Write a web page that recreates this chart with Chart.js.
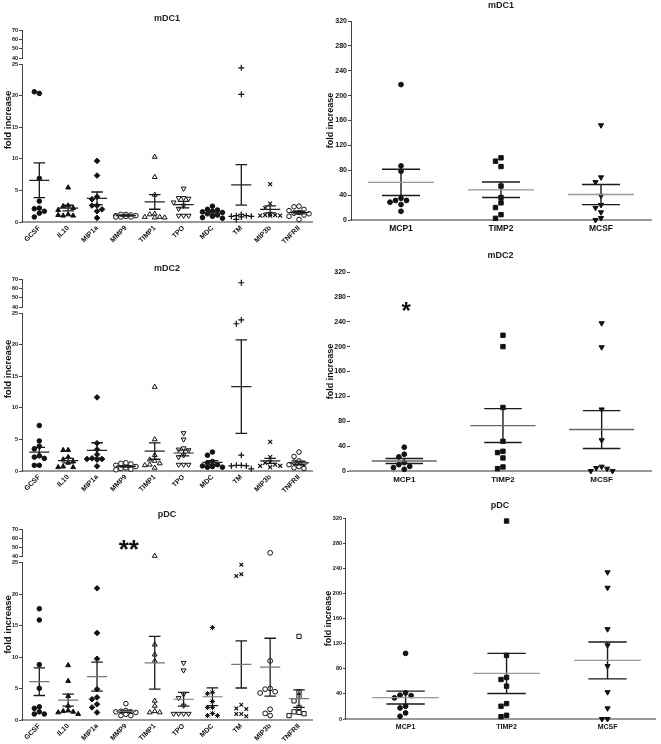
<!DOCTYPE html>
<html>
<head>
<meta charset="utf-8">
<script src="https://cdn.jsdelivr.net/npm/chart.js@4.4.1/dist/chart.umd.min.js"></script>
<style>
html, body { margin: 0; padding: 0; background: #fff; }
#wrap { position: relative; width: 661px; height: 744px; overflow: hidden; }
canvas { position: absolute; }
</style>
</head>
<body>
<div id="wrap">
  <canvas id="lt"></canvas>
  <canvas id="lm"></canvas>
  <canvas id="lb"></canvas>
  <canvas id="rt"></canvas>
  <canvas id="rm"></canvas>
  <canvas id="rb"></canvas>
</div>
<script>
// categorias e ticks
const leftCats = ['GCSF', 'IL10', 'MIP1a', 'MMP9', 'TIMP1', 'TPO', 'MDC', 'TM', 'MIP3b', 'TNFRII'];
const rightCats = ['MCP1', 'TIMP2', 'MCSF'];
const lowTicks = [0, 5, 10, 15, 20, 25];
const highTicks = [40, 50, 60, 70];
const rightTicks = [0, 40, 80, 120, 160, 200, 240, 280, 320];

// mDC1 - painel esquerdo (um array por categoria)
const mdc1LeftValues = [
  [20.35, 20.6, 6.9, 3.3, 2.2, 2.1, 1.7, 1.4, 0.8],
  [5.45, 2.6, 2.5, 2.2, 1.9, 1.2, 1.0, 1.0, 1.1],
  [9.67, 7.35, 4.0, 3.6, 2.6, 2.6, 2.0, 1.7, 0.65],
  [1.2, 1.2, 1.1, 1.0, 1.0, 0.9, 0.8, 0.8, 0.8],
  [10.3, 7.1, 4.3, 1.3, 1.2, 0.8, 0.8, 0.7, 0.7],
  [5.3, 3.8, 3.8, 3.7, 3.1, 2.6, 2.1, 1.0, 1.0, 1.0],
  [2.5, 2.0, 1.9, 1.7, 1.6, 1.5, 1.3, 1.1, 0.9, 0.7, 0.6],
  [24.4, 20.2, 1.2, 1.0, 1.0, 0.9, 0.9, 0.8, 0.4],
  [6.0, 2.9, 2.2, 1.3, 1.1, 1.1, 1.0, 1.0, 1.0],
  [2.5, 2.4, 2.0, 1.8, 1.5, 1.4, 1.3, 1.1, 0.9, 0.4]
];
const mdc1LeftMeans = [6.6, 2.2, 3.75, 1.0, 3.17, 2.75, 1.43, 5.87, 2.0, 1.5];
const mdc1LeftSems = [2.75, 0.45, 1.0, 0.07, 1.15, 0.5, 0.22, 3.2, 0.55, 0.2];

// mDC2 - painel esquerdo
const mdc2LeftValues = [
  [7.2, 4.75, 3.9, 3.5, 2.4, 2.2, 2.0, 0.9, 0.9],
  [3.3, 3.3, 2.2, 1.8, 1.5, 1.3, 0.7, 0.6, 0.6],
  [11.65, 4.4, 3.4, 2.6, 2.0, 1.9, 1.9, 1.8, 0.75],
  [1.3, 1.2, 1.1, 0.9, 0.7, 0.5, 0.4, 0.3, 0.2],
  [13.3, 5.0, 2.5, 1.8, 1.6, 1.2, 1.0, 0.9, 0.5],
  [6.0, 5.0, 3.6, 3.4, 3.3, 2.5, 2.2, 1.0, 1.0, 1.0],
  [3.0, 2.5, 1.5, 1.3, 1.0, 0.8, 0.7, 0.6, 0.6],
  [66, 23.9, 23.3, 2.5, 0.9, 0.9, 0.8, 0.8, 0.35],
  [4.6, 2.2, 1.4, 1.3, 1.0, 0.8, 0.8, 0.6],
  [3.0, 2.3, 1.6, 1.4, 1.2, 1.0, 0.7, 0.5, 0.4]
];
const mdc2LeftMeans = [3.0, 1.65, 3.27, 0.72, 3.16, 2.85, 1.35, 13.35, 1.6, 1.27];
const mdc2LeftSems = [0.75, 0.35, 1.2, 0.12, 1.3, 0.45, 0.3, 7.4, 0.4, 0.28];

// pDC - painel esquerdo
const pdcLeftValues = [
  [17.7, 15.9, 8.8, 5.05, 2.1, 1.85, 1.3, 0.95, 0.95],
  [8.7, 6.2, 3.8, 2.25, 1.5, 1.4, 1.3, 1.2, 0.95],
  [20.95, 13.84, 9.74, 4.9, 3.6, 3.3, 2.5, 2.0, 1.2],
  [2.6, 1.5, 1.4, 1.3, 1.3, 1.2, 0.9, 0.7, 0.7],
  [41, 12.0, 10.4, 9.4, 3.05, 2.25, 1.4, 1.2, 1.2],
  [9.1, 7.9, 4.1, 3.5, 2.3, 1.0, 1.0, 1.0, 1.0],
  [14.7, 4.4, 4.2, 2.95, 2.0, 2.0, 1.05, 0.7, 0.7],
  [24.7, 23.2, 22.9, 2.42, 1.84, 1.74, 0.95, 0.95, 0.58],
  [44.3, 9.4, 5.0, 4.9, 4.5, 4.3, 1.7, 1.05, 0.7],
  [13.3, 4.5, 3.74, 3.05, 2.0, 1.3, 1.2, 1.0, 0.7]
];
const pdcLeftMeans = [6.1, 3.15, 6.9, 1.37, 9.1, 3.3, 3.7, 8.84, 8.4, 3.4];
const pdcLeftSems = [2.2, 0.95, 2.3, 0.15, 4.2, 1.1, 1.4, 3.75, 4.6, 1.4];

// painéis da direita
const mdc1RightValues = [
  [217.8, 87, 78.4, 35, 31.4, 31.4, 28.6, 24.9, 14],
  [100, 94.6, 86, 54.6, 36.2, 27.6, 20, 8.6, 2.7],
  [152.4, 68.6, 61, 39, 24.3, 19.5, 12.4, 3.2, 0]
];
const mdc1RightMeans = [60.5, 48.6, 41];
const mdc1RightSems = [21, 12.4, 16.2];

const mdc2RightValues = [
  [38.2, 26.9, 22.6, 13.4, 10.2, 7.5, 5.4, 2.7],
  [218.3, 200, 102.2, 47.8, 31.7, 29.6, 21, 6.5, 3.8],
  [237.6, 199, 99, 49.5, 7, 4.8, 3.8, 0, 0]
];
const mdc2RightMeans = [16.1, 73.1, 66.7];
const mdc2RightSems = [4.1, 27.2, 30.4];

const pdcRightValues = [
  [104.5, 41.6, 37.9, 37.3, 33.6, 20.3, 17.6, 9.6, 4.3],
  [315.2, 101.3, 66.1, 62.9, 52.3, 24.5, 20.3, 5.9, 3.7],
  [233.6, 209, 143, 117.3, 84.3, 42.7, 17, 0, 0]
];
const pdcRightMeans = [34.1, 72.5, 93.3];
const pdcRightSems = [10.2, 32, 29.4];

const FONT = "'Liberation Sans', Arial, sans-serif";
const INK = '#111';
const BREAK = 30;

// marcadores de cada categoria
const marksA = [
  { s: 'circle', rad: 2.3, fill: true },
  { s: 'triangle', rad: 2.8, fill: true },
  { s: 'rectRot', rad: 2.8, fill: true },
  { s: 'rectRounded', rad: 2.5, fill: false },
  { s: 'triangle', rad: 2.8, fill: false },
  { s: 'triangle', rad: 2.8, fill: false, rot: 180 },
  { s: 'circle', rad: 2.3, fill: true },
  { s: 'cross', rad: 3, fill: false, bw: 1.2 },
  { s: 'crossRot', rad: 2.8, fill: false, bw: 1.2 },
  { s: 'circle', rad: 2.3, fill: false }
];
const marksB = [
  { s: 'circle', rad: 2.3, fill: true },
  { s: 'triangle', rad: 2.8, fill: true },
  { s: 'rectRot', rad: 2.8, fill: true },
  { s: 'circle', rad: 2.3, fill: false },
  { s: 'triangle', rad: 2.8, fill: false },
  { s: 'triangle', rad: 2.8, fill: false, rot: 180 },
  { s: 'star', rad: 2.6, fill: false, bw: 1 },
  { s: 'crossRot', rad: 2.6, fill: false, bw: 1.2 },
  { s: 'circle', rad: 2.4, fill: false },
  { s: 'rect', rad: 3, fill: false }
];
const marksRight = [
  { s: 'circle', rad: 2.4, fill: true },
  { s: 'rect', rad: 3.1, fill: true },
  { s: 'triangle', rad: 3, fill: true, rot: 180 }
];

// espalha pontos parecidos na horizontal (como no GraphPad)
function spread(vals, toPx, stepPx, xPx, diam, maxSlot) {
  const placed = [];
  return vals.map(v => {
    const py = toPx(v);
    let best = 0, bestD = -1;
    for (let k = 0; k <= maxSlot * 2; k++) {
      const slot = k === 0 ? 0 : (k % 2 ? -Math.ceil(k / 2) : k / 2);
      const ox = slot * stepPx;
      let dmin = Infinity;
      placed.forEach(p => { dmin = Math.min(dmin, Math.hypot(p.ox - ox, p.py - py)); });
      if (dmin >= diam) { best = ox; bestD = Infinity; break; }
      if (dmin > bestD) { bestD = dmin; best = ox; }
    }
    placed.push({ ox: best, py });
    return best / xPx;
  });
}

function meanSeries(means, halfW) {
  const d = [];
  means.forEach((m, i) => d.push({ x: i - halfW, y: m }, { x: i + halfW, y: m }, { x: i, y: null }));
  return d;
}

function semSeries(means, sems, capW) {
  const d = [];
  means.forEach((m, i) => {
    const hi = m + sems[i], lo = m - sems[i];
    d.push({ x: i - capW, y: hi }, { x: i + capW, y: hi }, { x: i, y: null });
    d.push({ x: i - capW, y: lo }, { x: i + capW, y: lo }, { x: i, y: null });
    d.push({ x: i, y: hi }, { x: i, y: lo }, { x: i, y: null });
  });
  return d;
}

function markerOpts(marks) {
  const m = c => (c.raw && marks[c.raw.c]) || marks[0];
  return {
    pointStyle: c => m(c).s,
    pointRadius: c => m(c).rad,
    pointRotation: c => m(c).rot || 0,
    pointBackgroundColor: c => m(c).fill ? INK : '#fff',
    pointBorderColor: INK,
    pointBorderWidth: c => m(c).bw || 1,
    clip: false,
    order: 1
  };
}

// textos extras: título vertical e asteriscos
const yTitlePlugin = {
  id: 'yTitle',
  afterDraw(chart, args, o) {
    if (!o || !o.text) return;
    const ctx = chart.ctx, a = chart.chartArea;
    ctx.save();
    ctx.font = 'bold ' + o.size + 'px ' + FONT;
    ctx.fillStyle = INK;
    ctx.translate(o.x, (a.top + a.bottom) / 2 + (o.dy || 0));
    ctx.rotate(-Math.PI / 2);
    ctx.textAlign = 'center';
    ctx.textBaseline = 'middle';
    ctx.fillText(o.text, 0, 0);
    ctx.restore();
  }
};
const notePlugin = {
  id: 'note',
  afterDatasetsDraw(chart, args, o) {
    if (!o || !o.text) return;
    const ctx = chart.ctx;
    const x = chart.scales.x.getPixelForValue(o.cat);
    const y = chart.scales[o.axis].getPixelForValue(o.value);
    ctx.save();
    ctx.font = 'bold ' + o.size + 'px ' + FONT;
    ctx.fillStyle = INK;
    ctx.textAlign = 'center';
    ctx.textBaseline = 'middle';
    ctx.fillText(o.text, x, y + o.size * 0.22);
    ctx.restore();
  }
};
Chart.register(yTitlePlugin, notePlugin);

function yLeftAxis(weight, min, max, ticks) {
  return {
    type: 'linear', axis: 'y', position: 'left', stack: 'L', stackWeight: weight, min, max,
    afterBuildTicks: s => { s.ticks = ticks.map(v => ({ value: v })); },
    afterFit: s => { s.width = 22; },
    ticks: { autoSkip: false, font: { family: FONT, size: 5.5, weight: 'bold' }, color: INK, padding: 1 },
    grid: { drawOnChartArea: false, tickLength: 3, color: '#444' },
    border: { color: '#444', width: 1 }
  };
}

function leftPanel(p) {
  const canvas = document.getElementById(p.id);
  canvas.width = 330; canvas.height = p.h;
  canvas.style.left = '0px'; canvas.style.top = p.top + 'px';

  const low = [], high = [];
  p.values.forEach((vals, c) => {
    const offs = spread(vals, v => v > BREAK ? 1000 + v * 0.93 : v * 6.32, 5, 28.9, 4.6, 2);
    vals.forEach((v, k) => (v > BREAK ? high : low).push({ x: c + offs[k], y: v, c }));
  });

  new Chart(canvas, {
    type: 'scatter',
    data: {
      datasets: [
        { type: 'line', data: meanSeries(p.means, 0.35), borderColor: p.meanColor, borderWidth: 1.2, pointRadius: 0, yAxisID: 'yLow', order: 0 },
        { type: 'line', data: semSeries(p.means, p.sems, 0.2), borderColor: '#1a1a1a', borderWidth: 1.3, pointRadius: 0, yAxisID: 'yLow', order: 0 },
        { data: low, yAxisID: 'yLow', ...markerOpts(p.marks) },
        { data: high, yAxisID: 'yHigh', ...markerOpts(p.marks) }
      ]
    },
    options: {
      responsive: false, animation: false, events: [],
      layout: { padding: { left: 0, right: 18, top: 0, bottom: 0 } },
      plugins: {
        legend: { display: false }, tooltip: { enabled: false },
        title: {
          display: true, text: p.title, fullSize: false, color: '#222',
          font: { family: FONT, size: 9, weight: 'bold' },
          padding: { top: p.tTop, bottom: p.tBottom }
        },
        yTitle: { text: 'fold increase', x: 8, dy: p.labelDy, size: 9.5 },
        note: p.note || {}
      },
      scales: {
        x: {
          type: 'linear', min: -0.6, max: 9.45,
          afterBuildTicks: s => { s.ticks = leftCats.map((c, i) => ({ value: i })); },
          afterFit: s => { s.height = p.xH; },
          ticks: {
            autoSkip: false, minRotation: 45, maxRotation: 45, padding: 2, color: INK,
            font: { family: FONT, size: 7, weight: 'bold' },
            callback: v => leftCats[v]
          },
          grid: { display: false, drawTicks: false },
          border: { color: '#999', width: 2 }
        },
        yLow: yLeftAxis(158, 0, 25, lowTicks),
        yGap: { type: 'linear', axis: 'y', position: 'left', stack: 'L', stackWeight: 6, display: false, min: 0, max: 1 },
        yHigh: yLeftAxis(28, 40, 70, highTicks)
      }
    }
  });
}

function rightPanel(p) {
  const canvas = document.getElementById(p.id);
  canvas.width = 339; canvas.height = p.h;
  canvas.style.left = '322px'; canvas.style.top = p.top + 'px';

  const pts = [];
  p.values.forEach((vals, c) => {
    const offs = spread(vals, v => v * 0.62, 5.5, 100, 5.2, 3);
    vals.forEach((v, k) => pts.push({ x: c + offs[k], y: v, c }));
  });

  new Chart(canvas, {
    type: 'scatter',
    data: {
      datasets: [
        { type: 'line', data: meanSeries(p.means, 0.33), borderColor: p.meanColor, borderWidth: 1.3, pointRadius: 0, yAxisID: 'y', order: 0 },
        { type: 'line', data: semSeries(p.means, p.sems, 0.19), borderColor: '#1a1a1a', borderWidth: 1.4, pointRadius: 0, yAxisID: 'y', order: 0 },
        { data: pts, yAxisID: 'y', ...markerOpts(marksRight) }
      ]
    },
    options: {
      responsive: false, animation: false, events: [],
      layout: { padding: { left: 0, right: p.padR, top: 0, bottom: 0 } },
      plugins: {
        legend: { display: false }, tooltip: { enabled: false },
        title: {
          display: true, text: p.title, fullSize: false, color: '#222',
          font: { family: FONT, size: 9, weight: 'bold' },
          padding: { top: p.tTop, bottom: p.tBottom }
        },
        note: p.note || {}
      },
      scales: {
        x: {
          type: 'linear', min: p.xMin, max: p.xMax,
          afterBuildTicks: s => { s.ticks = rightCats.map((c, i) => ({ value: i })); },
          afterFit: s => { s.height = p.xH; },
          ticks: {
            autoSkip: false, minRotation: 0, maxRotation: 0, padding: 4, color: INK,
            font: { family: FONT, size: p.catSize, weight: 'bold' },
            callback: v => rightCats[v]
          },
          grid: { display: false, drawTicks: false },
          border: { color: '#999', width: 2 }
        },
        y: {
          type: 'linear', position: 'left', min: 0, max: 320,
          afterBuildTicks: s => { s.ticks = rightTicks.map(v => ({ value: v })); },
          afterFit: s => { s.width = p.yW; },
          ticks: { autoSkip: false, font: { family: FONT, size: p.tickSize, weight: 'bold' }, color: INK, padding: 1 },
          grid: { drawOnChartArea: false, tickLength: p.tickLen || 3, color: '#444' },
          border: { display: p.yBorder, color: '#444', width: 1 },
          title: {
            display: true, text: 'fold increase', color: INK,
            font: { family: FONT, size: 9, weight: 'bold' },
            padding: { top: p.yTitlePad, bottom: 0 }
          }
        }
      }
    }
  });
}

leftPanel({ id: 'lt', top: 0, h: 250, title: 'mDC1', tTop: 13.6, tBottom: 5.6, xH: 28, labelDy: -6,
  values: mdc1LeftValues, means: mdc1LeftMeans, sems: mdc1LeftSems, marks: marksA, meanColor: '#222' });
leftPanel({ id: 'lm', top: 250, h: 250, title: 'mDC2', tTop: 13.6, tBottom: 4.6, xH: 29, labelDy: -6,
  values: mdc2LeftValues, means: mdc2LeftMeans, sems: mdc2LeftSems, marks: marksA, meanColor: '#222' });
leftPanel({ id: 'lb', top: 500, h: 244, title: 'pDC', tTop: 9.6, tBottom: 8.6, xH: 24, labelDy: 0,
  values: pdcLeftValues, means: pdcLeftMeans, sems: pdcLeftSems, marks: marksB, meanColor: '#777',
  note: { text: '**', cat: 3.1, value: 53, axis: 'yHigh', size: 26 } });

rightPanel({ id: 'rt', top: 0, h: 250, title: 'mDC1', tTop: 0.6, tBottom: 9.6, xH: 30, yW: 29, yTitlePad: 3.6, padR: 10,
  xMin: -0.5, xMax: 2.5, catSize: 8.5, tickSize: 7, yBorder: true,
  values: mdc1RightValues, means: mdc1RightMeans, sems: mdc1RightSems, meanColor: '#999' });
rightPanel({ id: 'rm', top: 250, h: 250, title: 'mDC2', tTop: 0.6, tBottom: 10.6, xH: 29, yW: 28, yTitlePad: 3.6, padR: 10,
  xMin: -0.55, xMax: 2.5, catSize: 8, tickSize: 7, yBorder: false,
  values: mdc2RightValues, means: mdc2RightMeans, sems: mdc2RightSems, meanColor: '#666',
  note: { text: '*', cat: 0.02, value: 263, axis: 'y', size: 24 } });
rightPanel({ id: 'rb', top: 500, h: 244, title: 'pDC', tTop: 0, tBottom: 7.2, xH: 25, yW: 23, yTitlePad: 1.4, padR: 6,
  xMin: -0.6, xMax: 2.47, catSize: 7, tickSize: 5.5, tickLen: 2, yBorder: true,
  values: pdcRightValues, means: pdcRightMeans, sems: pdcRightSems, meanColor: '#999' });
</script>
</body>
</html>
